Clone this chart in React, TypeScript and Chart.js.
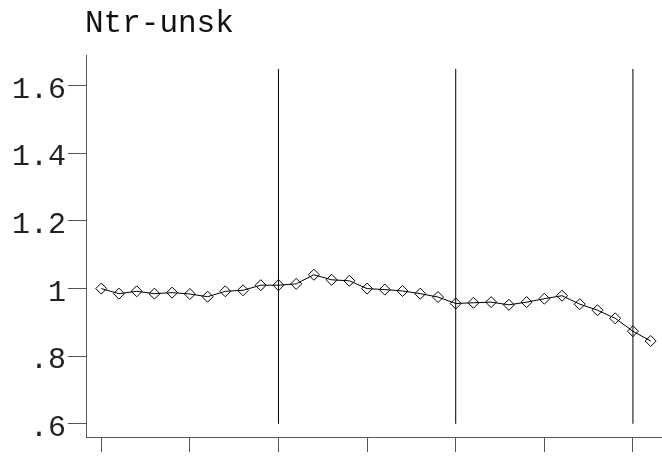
import React, { useEffect, useRef } from 'react';
import { Chart, registerables } from 'chart.js';

Chart.register(...registerables);

const TITLE = 'Ntr-unsk';

const seriesValues = [
  1.000, 0.985, 0.992, 0.985, 0.988, 0.984, 0.976, 0.992, 0.995, 1.010,
  1.010, 1.014, 1.041, 1.026, 1.023, 1.000, 0.997, 0.993, 0.985, 0.975,
  0.956, 0.958, 0.960, 0.952, 0.960, 0.970, 0.979, 0.954, 0.936, 0.912,
  0.874, 0.845,
];

const yTickValues = [0.6, 0.8, 1.0, 1.2, 1.4, 1.6];
const yTickLabels = ['.6', '.8', '1', '1.2', '1.4', '1.6'];
const xTickValues = [0, 5, 10, 15, 20, 25, 30];
const markerLines = [10, 20, 30];
const markerLow = 0.6;
const markerHigh = 1.65;

const X_MIN = -0.86;
const X_MAX = 31.64;
const Y_MIN = 0.561;
const Y_MAX = 1.691;

const FONT = "'Liberation Mono', 'Courier New', monospace";

const titlePlugin = {
  id: 'leftTitle',
  afterDraw(chart: any) {
    const { ctx, chartArea } = chart;
    ctx.save();
    ctx.font = `31px ${FONT}`;
    ctx.fillStyle = '#111';
    ctx.textAlign = 'left';
    ctx.textBaseline = 'alphabetic';
    ctx.fillText(TITLE, chartArea.left - 1, 32);
    ctx.restore();
  },
};

export default function App() {
  const ref = useRef<HTMLCanvasElement | null>(null);

  useEffect(() => {
    if (!ref.current) return;
    const mainData = seriesValues.map((v, i) => ({ x: i, y: v }));
    const lineSets = markerLines.map((m) => ({
      data: [
        { x: m, y: markerLow },
        { x: m, y: markerHigh },
      ],
      borderColor: '#000',
      borderWidth: 1,
      pointRadius: 0,
      fill: false,
    }));
    const chart = new Chart(ref.current, {
      type: 'line',
      data: {
        datasets: [
          ...lineSets,
          {
            data: mainData,
            borderColor: '#000',
            borderWidth: 1,
            pointStyle: 'rectRot',
            pointRadius: 5.5,
            pointBorderColor: '#000',
            pointBorderWidth: 1,
            pointBackgroundColor: 'rgba(0,0,0,0)',
            fill: false,
            tension: 0,
          },
        ],
      },
      options: {
        animation: false,
        responsive: false,
        devicePixelRatio: 1,
        layout: { autoPadding: false, padding: { top: 55, left: 0, right: 0, bottom: 0 } },
        plugins: {
          legend: { display: false },
          tooltip: { enabled: false },
          title: { display: false },
        },
        scales: {
          x: {
            type: 'linear',
            min: X_MIN,
            max: X_MAX,
            afterBuildTicks: (s: any) => {
              s.ticks = xTickValues.map((v) => ({ value: v }));
            },
            afterFit: (s: any) => {
              s.height = 15;
            },
            ticks: { display: false },
            grid: {
              drawOnChartArea: false,
              drawTicks: true,
              tickLength: 15,
              color: '#555',
              lineWidth: 1,
            },
            border: { display: true, color: '#555', width: 1 },
          },
          y: {
            type: 'linear',
            min: Y_MIN,
            max: Y_MAX,
            afterBuildTicks: (s: any) => {
              s.ticks = yTickValues.map((v) => ({ value: v }));
            },
            afterFit: (s: any) => {
              s.width = 86;
            },
            ticks: {
              autoSkip: false,
              padding: 2,
              labelOffset: 4,
              color: '#222',
              font: { family: FONT, size: 30 },
              callback: (v: any) => {
                const idx = yTickValues.findIndex((t) => Math.abs(t - Number(v)) < 1e-6);
                return idx >= 0 ? yTickLabels[idx] : '';
              },
            },
            grid: {
              drawOnChartArea: false,
              drawTicks: true,
              tickLength: 18,
              color: '#555',
              lineWidth: 1,
            },
            border: { display: true, color: '#555', width: 1 },
          },
        },
      } as any,
      plugins: [titlePlugin],
    });
    return () => chart.destroy();
  }, []);

  return (
    <div style={{ position: 'absolute', left: 0, top: 0, width: 662, height: 457, background: '#fff' }}>
      <canvas ref={ref} width={662} height={457} style={{ display: 'block' }} />
    </div>
  );
}
